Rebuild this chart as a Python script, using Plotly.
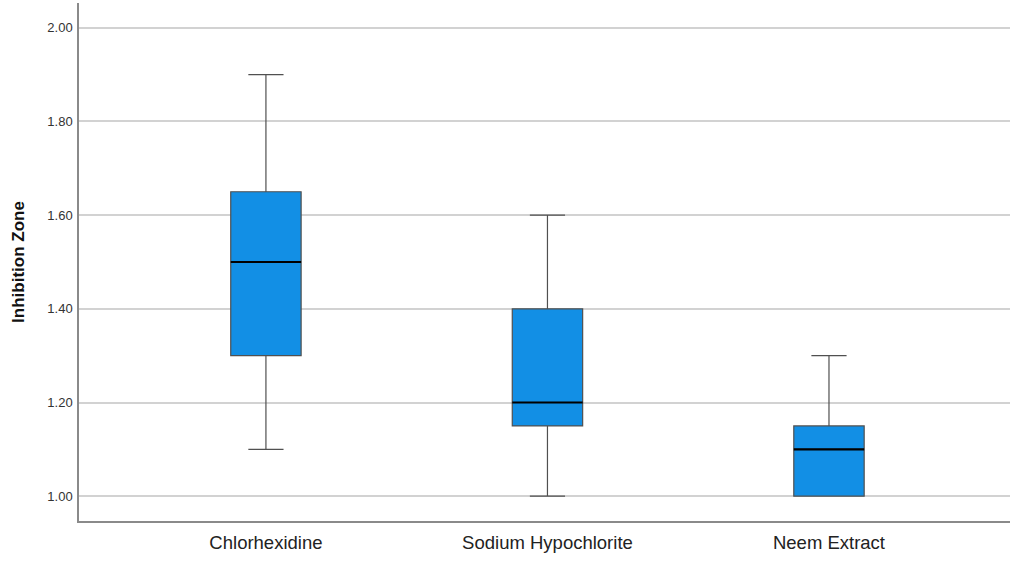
import plotly.graph_objects as go

categories = ["Chlorhexidine", "Sodium Hypochlorite", "Neem Extract"]
minimum = [1.10, 1.00, 1.00]
q1 = [1.30, 1.15, 1.00]
median = [1.50, 1.20, 1.10]
q3 = [1.65, 1.40, 1.15]
maximum = [1.90, 1.60, 1.30]
y_ticks = [1.00, 1.20, 1.40, 1.60, 1.80, 2.00]

fig = go.Figure()
fig.add_trace(go.Box(
    x=categories,
    q1=q1, median=median, q3=q3,
    lowerfence=minimum, upperfence=maximum,
    fillcolor="#128FE5",
    line=dict(color="#505050", width=1.2),
    width=0.25,
    whiskerwidth=0.5,
    boxpoints=False,
    hoverinfo="skip",
    showlegend=False,
))

# median lines emphasised (black, thicker) derived from the data
half = 0.125
for i, m in enumerate(median):
    fig.add_shape(type="line", xref="x", yref="y",
                  x0=i - half, x1=i + half, y0=m, y1=m,
                  line=dict(color="#000000", width=2.2), layer="above")

fig.update_layout(
    width=1010, height=567,
    margin=dict(l=79, r=0, t=3, b=46),
    paper_bgcolor="white", plot_bgcolor="white",
    font=dict(family="Liberation Sans, Arial, sans-serif", color="#222222"),
)
fig.update_xaxes(
    type="category", categoryorder="array", categoryarray=categories,
    range=[-0.664, 2.643],
    showgrid=False, zeroline=False,
    showline=True, linecolor="#8a8a8a", linewidth=1.5,
    ticks="", ticklabelstandoff=4,
    tickfont=dict(size=18.5, color="#222222"),
)
fig.update_yaxes(
    range=[0.947, 2.053],
    tickvals=y_ticks, tickformat=".2f",
    showgrid=True, gridcolor="#d2d2d2", gridwidth=1.5,
    zeroline=False,
    showline=True, linecolor="#8a8a8a", linewidth=1.5,
    ticks="", ticklabelstandoff=2,
    tickfont=dict(size=13, color="#333333"),
    title=dict(text="Inhibition Zone", font=dict(size=17, color="#111111", weight="bold"), standoff=18),
)

fig.write_html(
    "out.html",
    config={"displayModeBar": False},
    post_script="document.body.style.margin='0';document.body.style.overflow='hidden';",
)
